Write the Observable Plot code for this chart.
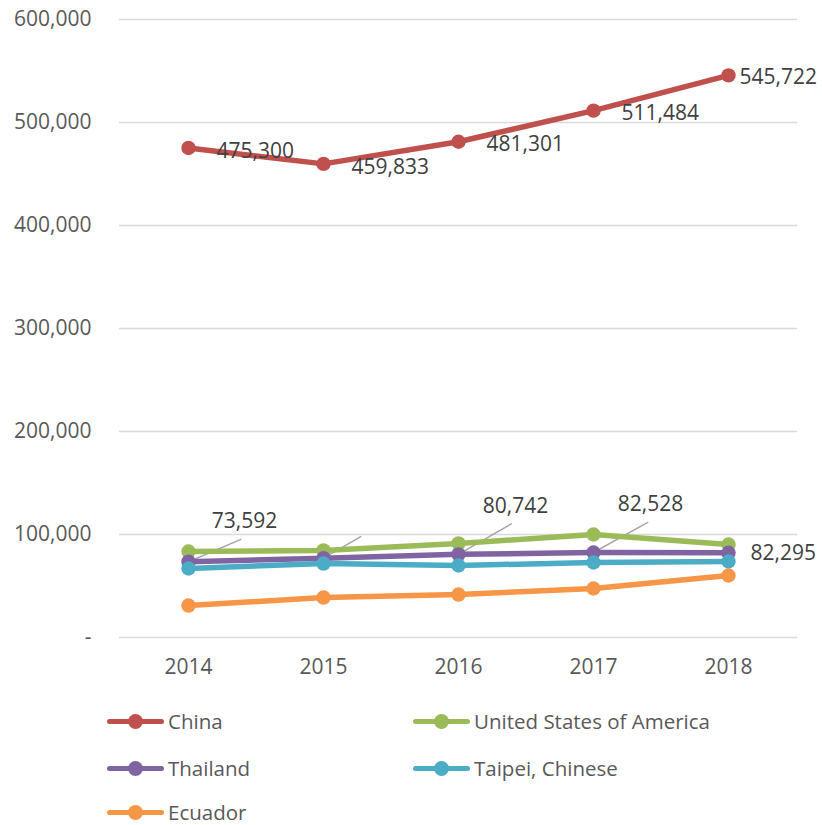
<!DOCTYPE html>
<html>
<head>
<meta charset="utf-8">
<script src="https://cdn.jsdelivr.net/npm/d3@7"></script>
<script src="https://cdn.jsdelivr.net/npm/@observablehq/plot@0.6"></script>
<style>
  html, body { margin: 0; padding: 0; background: #fff; }
  body { width: 822px; height: 825px; overflow: hidden; font-family: "Open Sans", sans-serif; }
  #legend { position: relative; height: 135px; }
  .item { position: absolute; display: flex; align-items: center; font-size: 20.5px; color: #595959; white-space: nowrap; }
  .sw { position: relative; width: 57px; height: 15px; margin-right: 4px; }
  .sw .ln { position: absolute; left: 0; right: 0; top: 5px; height: 5.5px; border-radius: 3px; }
  .sw .dt { position: absolute; left: 21px; top: 0; width: 15px; height: 15px; border-radius: 50%; }
</style>
</head>
<body>
<div id="chart"></div>
<div id="legend"></div>
<script>
const years = [2014, 2015, 2016, 2017, 2018];
const seriesNames = ["China", "United States of America", "Thailand", "Taipei, Chinese", "Ecuador"];
const seriesColors = ["#c0504d", "#9bbb59", "#8064a2", "#4bacc6", "#f79646"];
const china    = [475300, 459833, 481301, 511484, 545722];
const usa      = [83500, 84500, 91300, 100000, 90300];
const thailand = [73592, 77000, 80742, 82528, 82295];
const taipei   = [67000, 71800, 69900, 72800, 73800];
const ecuador  = [31000, 38800, 41700, 47600, 60200];
const yTicks = [0, 100000, 200000, 300000, 400000, 500000, 600000];

const seriesValues = [china, usa, thailand, taipei, ecuador];
const rows = seriesNames.flatMap((name, i) =>
  years.map((year, j) => ({ name, year, value: seriesValues[i][j] })));
const byName = name => rows.filter(d => d.name === name);

const fmt = v => v === 0 ? "-" : d3.format(",")(v);
const labelFill = "#404040";
const fs = 21;

const leader = { draw(context, l) { context.moveTo(0, 0); context.lineTo(0, -l); } };

const seriesMarks = seriesNames.flatMap((name, i) => [
  Plot.line(byName(name), { x: "year", y: "value", stroke: seriesColors[i], strokeWidth: 5.5, strokeLinejoin: "round", strokeLinecap: "round" }),
  Plot.dot(byName(name), { x: "year", y: "value", r: 7.2, fill: seriesColors[i], stroke: "none" })
]);

const chinaRows = byName("China");
const thaiRows = byName("Thailand");
const thaiAt = y => thaiRows.filter(d => d.year === y);
const chinaAt = y => chinaRows.filter(d => d.year === y);

const plot = Plot.plot({
  width: 822,
  height: 690,
  marginLeft: 119,
  marginRight: 25,
  marginTop: 19,
  marginBottom: 53,
  style: { fontFamily: "'Open Sans', sans-serif", background: "#fff" },
  x: { type: "point", domain: years, padding: 0.5 },
  y: { domain: [0, 600000] },
  marks: [
    Plot.ruleY(yTicks, { stroke: "#d9d9d9", strokeWidth: 1.5 }),
    Plot.axisY({ ticks: yTicks, tickFormat: fmt, tickSize: 0, tickPadding: 28, fontSize: fs, fill: "#595959", label: null }),
    Plot.axisX({ tickSize: 0, tickPadding: 22, fontSize: fs, fill: "#595959", tickFormat: d => String(d), label: null }),
    // leader lines for Thailand labels
    Plot.vector(thaiAt(2014), { x: "year", y: "value", length: 57, rotate: 67, anchor: "start", shape: leader, stroke: "#a6a6a6", strokeWidth: 1.5 }),
    Plot.vector(thaiAt(2015), { x: "year", y: "value", length: 43, rotate: 60, anchor: "start", shape: leader, stroke: "#a6a6a6", strokeWidth: 1.5 }),
    Plot.vector(thaiAt(2016), { x: "year", y: "value", length: 61, rotate: 60, anchor: "start", shape: leader, stroke: "#a6a6a6", strokeWidth: 1.5 }),
    Plot.vector(thaiAt(2017), { x: "year", y: "value", length: 62, rotate: 61, anchor: "start", shape: leader, stroke: "#a6a6a6", strokeWidth: 1.5 }),
    ...seriesMarks,
    // China labels
    Plot.text(chinaRows.filter(d => d.year !== 2018), { x: "year", y: "value", text: d => fmt(d.value), textAnchor: "start", dx: 28, dy: 3, fontSize: fs, fill: labelFill }),
    Plot.text(chinaAt(2018), { x: "year", y: "value", text: d => fmt(d.value), textAnchor: "start", dx: 11, dy: 2, fontSize: fs, fill: labelFill }),
    // Thailand labels
    Plot.text(thaiAt(2014), { x: "year", y: "value", text: d => fmt(d.value), dx: 56, dy: -40, fontSize: fs, fill: labelFill }),
    Plot.text([...thaiAt(2016), ...thaiAt(2017)], { x: "year", y: "value", text: d => fmt(d.value), dx: 57, dy: -48, fontSize: fs, fill: labelFill }),
    Plot.text(thaiAt(2018), { x: "year", y: "value", text: d => fmt(d.value), textAnchor: "start", dx: 22, dy: 1, fontSize: fs, fill: labelFill })
  ]
});
document.getElementById("chart").appendChild(plot);

// legend
const legend = document.getElementById("legend");
const legendPos = [[107, 17], [413, 17], [107, 64], [413, 64], [107, 108]];
seriesNames.forEach((name, i) => {
  const item = document.createElement("div");
  item.className = "item";
  item.style.left = legendPos[i][0] + "px";
  item.style.top = (legendPos[i][1]) + "px";
  item.innerHTML = `<span class="sw"><span class="ln" style="background:${seriesColors[i]}"></span><span class="dt" style="background:${seriesColors[i]}"></span></span><span>${name}</span>`;
  legend.appendChild(item);
});
</script>
</body>
</html>
